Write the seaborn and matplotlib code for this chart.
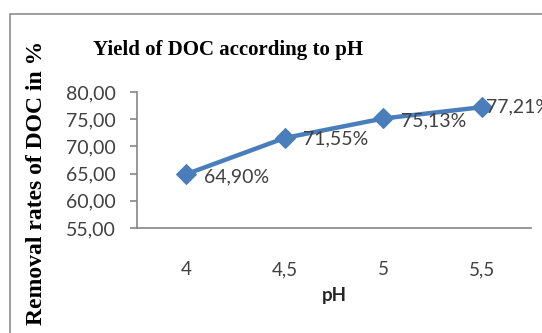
import matplotlib
matplotlib.use("Agg")
import matplotlib.pyplot as plt
import seaborn as sns
import pandas as pd
from matplotlib.patches import Rectangle

ph_labels = ["4", "4,5", "5", "5,5"]
removal = [64.90, 71.55, 75.13, 77.21]
point_labels = ["64,90%", "71,55%", "75,13%", "77,21%"]
yticks = [55, 60, 65, 70, 75, 80]
ytick_labels = ["55,00", "60,00", "65,00", "70,00", "75,00", "80,00"]

sns.set_theme(style="white")
plt.rcParams['font.family'] = ['Lato', 'DejaVu Sans']

df = pd.DataFrame({"pH": ph_labels, "rate": removal})

fig = plt.figure(figsize=(5.42, 3.33), dpi=100)
ax = fig.add_axes([137/542, 1-228/333, (531-137)/542, (228-92)/333])

# outer chart border
fig.patches.append(Rectangle((10/542, -0.1), 1.2, 1-14/333+0.1, transform=fig.transFigure,
                             fill=False, edgecolor="#8c8c8c", linewidth=1.2, zorder=0))

sns.lineplot(data=df, x="pH", y="rate", sort=False, ax=ax, color="#4A7EBB",
             linewidth=3.2, marker="D", markersize=10, markeredgecolor="#4A7EBB")

label_dx = [13, 13, 13, 3]
label_dy = [-2, -1, -2, 0]
for i, (v, t) in enumerate(zip(removal, point_labels)):
    ax.annotate(t, (i, v), xytext=(label_dx[i], label_dy[i]), textcoords="offset points",
                ha="left", va="center", fontsize=14, color="#404040", annotation_clip=False)

ax.set_xlim(-0.5, 3.5)
ax.set_ylim(55, 80)
ax.set_yticks(yticks)
ax.set_yticklabels(ytick_labels)
ax.set_xticks(range(len(ph_labels)))
ax.set_xticklabels(ph_labels)
ax.tick_params(axis="y", left=True, length=5, width=1.2, color="#868686", pad=10,
               labelsize=14, labelcolor="#404040")
ax.tick_params(axis="x", bottom=False, pad=18, labelsize=13.5, labelcolor="#404040")
for s in ["top", "right"]:
    ax.spines[s].set_visible(False)
for s in ["left", "bottom"]:
    ax.spines[s].set_color("#868686")
    ax.spines[s].set_linewidth(1.2)

ax.set_xlabel("pH", fontsize=13.5, fontweight="bold", color="#262626", labelpad=6)
ax.set_ylabel("")

fig.text(93/542, 1-50/333, "Yield of DOC according to pH", fontsize=15, fontweight="bold",
         family=["Liberation Serif"], ha="left", va="center", color="black")
fig.text(37/542, 1-183/333, "Removal rates of DOC in %", fontsize=17, fontweight="bold",
         family=["Liberation Serif"], rotation=90, ha="center", va="center", color="black")

fig.savefig("out.png", dpi=100)
